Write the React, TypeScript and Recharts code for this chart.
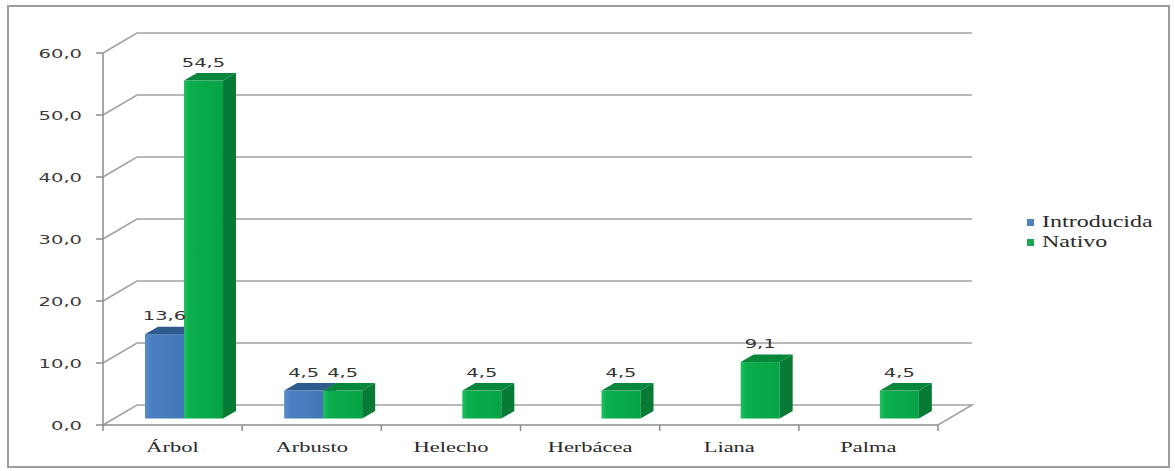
import React from "react";
import { BarChart, Bar, XAxis, YAxis, CartesianGrid, Legend, LabelList } from "recharts";

const categories = ["Árbol", "Arbusto", "Helecho", "Herbácea", "Liana", "Palma"];
const introducida: (number | null)[] = [13.6, 4.5, null, null, null, null];
const nativo: (number | null)[] = [54.5, 4.5, 4.5, 4.5, 9.1, 4.5];
const yTicks = [0, 10, 20, 30, 40, 50, 60];

const data = categories.map((name, i) => ({
    name,
    introducida: introducida[i],
    nativo: nativo[i],
}));

// chart box and front plane of the plot
const W = 1175;
const H = 471;
const PLOT_LEFT = 103;
const PLOT_RIGHT = 938;
const PLOT_TOP = 53;
const PLOT_BOTTOM = 425;
const Y_AXIS_W = 70;
const X_AXIS_H = 30;
const BAND = (PLOT_RIGHT - PLOT_LEFT) / categories.length;

// fake 3d: depth of the walls, where bars sit in depth, and bar thickness
const WALL_DX = 34;
const WALL_DY = 20;
const BAR_DX = 11;
const BAR_DY = 6.5;
const DEPTH_DX = 13;
const DEPTH_DY = 7.5;

const GRID = "#a3a3a3";
const AXIS = "#8c8c8c";
const NUM_FONT = "'DejaVu Sans', Verdana, sans-serif";
const CAT_FONT = "'Liberation Serif', 'Times New Roman', serif";
// text in this chart is drawn a bit stretched sideways
const NUM_STRETCH = 1.5;
const CAT_STRETCH = 1.5;

const fmt = (v: number) => v.toFixed(1).replace(".", ",");

const palette: Record<string, { side: string; top: string; id: string }> = {
    introducida: { side: "#355f95", top: "#2f5a8e", id: "gBlue" },
    nativo: { side: "#077a35", top: "#06873b", id: "gGreen" },
};

function WideText(props: any) {
    const { x, y, stretch, anchor, children, ...rest } = props;
    return (
        <text transform={`translate(${x},${y}) scale(${stretch},1)`} x={0} y={0} textAnchor={anchor} {...rest}>
            {children}
        </text>
    );
}

function Bar3D(props: any) {
    const { x, y, width, height, value, series } = props;
    if (value == null || !height || height <= 0) return null;
    const c = palette[series];
    const fx = x + BAR_DX;
    const fy = y - BAR_DY;
    const side = `${fx + width},${fy} ${fx + width + DEPTH_DX},${fy - DEPTH_DY} ${fx + width + DEPTH_DX},${fy + height - DEPTH_DY} ${fx + width},${fy + height}`;
    const top = `${fx},${fy} ${fx + DEPTH_DX},${fy - DEPTH_DY} ${fx + width + DEPTH_DX},${fy - DEPTH_DY} ${fx + width},${fy}`;
    return (
        <g>
            <rect x={fx} y={fy} width={width} height={height} fill={`url(#${c.id})`} />
            <polygon points={side} fill={c.side} />
            <polygon points={top} fill={c.top} />
        </g>
    );
}

function ValueLabel(props: any) {
    const vb = props.viewBox ?? props;
    const x = props.x ?? vb.x;
    const y = props.y ?? vb.y;
    const width = props.width ?? vb.width;
    const { value } = props;
    if (value == null) return null;
    return (
        <WideText
            x={x + width / 2 + BAR_DX}
            y={y - BAR_DY - 14}
            stretch={NUM_STRETCH}
            anchor="middle"
            fontFamily={NUM_FONT}
            fontSize={13}
            fill="#333"
        >
            {fmt(Number(value))}
        </WideText>
    );
}

function YTick(props: any) {
    const { x, y, payload } = props;
    return (
        <WideText x={x} y={y + 5} stretch={NUM_STRETCH} anchor="end" fontFamily={NUM_FONT} fontSize={13} fill="#3a3a3a">
            {fmt(payload.value)}
        </WideText>
    );
}

function XTick(props: any) {
    const { x, payload, index } = props;
    const left = x - BAND / 2;
    const right = x + BAND / 2;
    return (
        <g>
            <line x1={left} y1={PLOT_BOTTOM} x2={left} y2={PLOT_BOTTOM + 6} stroke={AXIS} strokeWidth={1.5} />
            {index === categories.length - 1 && (
                <line x1={right} y1={PLOT_BOTTOM} x2={right} y2={PLOT_BOTTOM + 6} stroke={AXIS} strokeWidth={1.5} />
            )}
            <WideText x={x} y={PLOT_BOTTOM + 27} stretch={CAT_STRETCH} anchor="middle" fontFamily={CAT_FONT} fontSize={15} fill="#2a2a2a">
                {payload.value}
            </WideText>
        </g>
    );
}

// each gridline runs up the side wall and along the back wall; the base one closes the floor
function WallLine(props: any) {
    const { x1, y1, x2 } = props;
    const floor = Math.abs(y1 - PLOT_BOTTOM) < 1;
    let d = `M${x1},${y1} L${x1 + WALL_DX},${y1 - WALL_DY} L${x2 + WALL_DX},${y1 - WALL_DY}`;
    if (floor) d += ` L${x2},${y1}`;
    return <path key={`w-${y1}`} d={d} fill="none" stroke={GRID} strokeWidth={1.6} />;
}

function LegendBox(props: any) {
    const items = props.payload ?? [];
    return (
        <div style={{ display: "flex", flexDirection: "column" }}>
            {items.map((it: any) => (
                <div key={it.value} style={{ display: "flex", alignItems: "center", height: 20, whiteSpace: "nowrap" }}>
                    <span style={{ width: 7, height: 7, background: it.color, marginRight: 8, display: "inline-block" }} />
                    <span
                        style={{
                            fontFamily: CAT_FONT,
                            fontSize: 16,
                            color: "#2a2a2a",
                            display: "inline-block",
                            transform: `scaleX(${CAT_STRETCH})`,
                            transformOrigin: "left center",
                        }}
                    >
                        {it.value}
                    </span>
                </div>
            ))}
        </div>
    );
}

export default function App() {
    return (
        <div style={{ position: "absolute", left: 0, top: 0, width: W, height: H, background: "#fff" }}>
            <div
                style={{
                    position: "absolute",
                    left: 7,
                    top: 5,
                    width: 1163,
                    height: 463,
                    border: "2px solid #9d9d9d",
                    boxSizing: "border-box",
                }}
            />
            <BarChart
                width={W}
                height={H}
                data={data}
                barSize={39}
                barGap={0}
                margin={{
                    top: PLOT_TOP,
                    right: W - PLOT_RIGHT,
                    bottom: H - PLOT_BOTTOM - X_AXIS_H,
                    left: PLOT_LEFT - Y_AXIS_W,
                }}
                style={{ position: "absolute", left: 0, top: 0 }}
            >
                <defs>
                    <linearGradient id="gBlue" x1="0" y1="0" x2="1" y2="0">
                        <stop offset="0%" stopColor="#5a8dcb" />
                        <stop offset="15%" stopColor="#4a80c2" />
                        <stop offset="100%" stopColor="#4277b6" />
                    </linearGradient>
                    <linearGradient id="gGreen" x1="0" y1="0" x2="1" y2="0">
                        <stop offset="0%" stopColor="#1fc060" />
                        <stop offset="15%" stopColor="#0bae4c" />
                        <stop offset="100%" stopColor="#06a345" />
                    </linearGradient>
                </defs>
                <CartesianGrid vertical={false} horizontal={(p: any) => <WallLine {...p} />} />
                <XAxis
                    dataKey="name"
                    height={X_AXIS_H}
                    tickLine={false}
                    axisLine={{ stroke: AXIS, strokeWidth: 1.5 }}
                    tick={<XTick />}
                    interval={0}
                />
                <YAxis
                    width={Y_AXIS_W}
                    domain={[0, 60]}
                    ticks={yTicks}
                    tickSize={7}
                    tickMargin={14}
                    tickLine={{ stroke: AXIS, strokeWidth: 1.5 }}
                    axisLine={{ stroke: AXIS, strokeWidth: 1.5 }}
                    tick={<YTick />}
                />
                <Legend
                    layout="vertical"
                    align="center"
                    verticalAlign="middle"
                    wrapperStyle={{ left: 1027, top: 212, width: 150, height: 40 }}
                    content={<LegendBox />}
                />
                <Bar
                    dataKey="introducida"
                    name="Introducida"
                    fill="#4f81bd"
                    isAnimationActive={false}
                    shape={(p: any) => <Bar3D {...p} series="introducida" />}
                >
                    <LabelList dataKey="introducida" content={<ValueLabel />} />
                </Bar>
                <Bar
                    dataKey="nativo"
                    name="Nativo"
                    fill="#1aa752"
                    isAnimationActive={false}
                    shape={(p: any) => <Bar3D {...p} series="nativo" />}
                >
                    <LabelList dataKey="nativo" content={<ValueLabel />} />
                </Bar>
            </BarChart>
        </div>
    );
}
